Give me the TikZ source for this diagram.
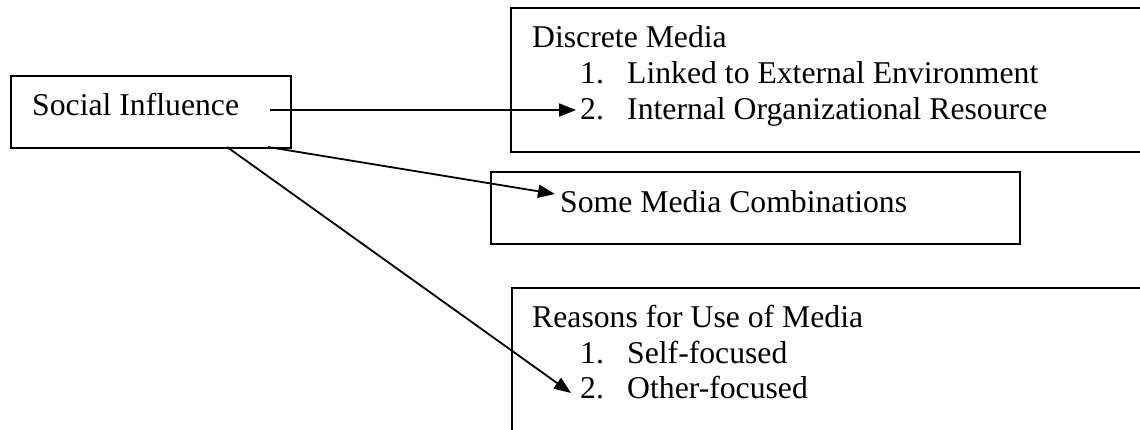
\documentclass[tikz,border=0pt]{standalone}
\usepackage{fontspec}
\setmainfont{Liberation Serif}
\usetikzlibrary{arrows.meta}
\begin{document}
\begin{tikzpicture}[x=1pt,y=-1pt,
  frame/.style={draw=black,line width=2.2pt,fill=white,inner sep=0pt,anchor=north west},
  label/.style={anchor=base west,inner sep=0pt,font=\fontsize{31.7}{38}\selectfont},
  link/.style={line width=1.8pt,-{Triangle[length=17pt,width=13pt]}}]
  \clip (0,0) rectangle (1140,429);
  \fill[white] (0,0) rectangle (1140,429);

  % boxes
  \node[frame,minimum width=280pt,minimum height=72pt] (si) at (10,75) {};
  \node[frame,minimum width=660pt,minimum height=144pt] (dm) at (510,7) {};
  \node[frame,minimum width=529pt,minimum height=72pt] (smc) at (490,171) {};
  \node[frame,minimum width=660pt,minimum height=170pt] (rum) at (511,287) {};

  % texts
  \node[label] (siT) at (32,115) {Social Influence};

  \node[label] (dmT) at (532,47) {Discrete Media};
  \node[label] (dmN1) at (580,83) {1.};
  \node[label] (dmI1) at (627,83) {Linked to External Environment};
  \node[label] (dmN2) at (580,119) {2.};
  \node[label] (dmI2) at (627,119) {Internal Organizational Resource};

  \node[label] (smcT) at (560,212) {Some Media Combinations};

  \node[label] (rumT) at (532,327) {Reasons for Use of Media};
  \node[label] (rumN1) at (580,363) {1.};
  \node[label] (rumI1) at (627,363) {Self-focused};
  \node[label] (rumN2) at (580,398) {2.};
  \node[label] (rumI2) at (627,398) {Other-focused};

  % connector ends
  \coordinate (a1) at (270,110);
  \coordinate (b1) at (576,110);
  \coordinate (a2) at (268,147);
  \coordinate (b2) at (555,194);
  \coordinate (a3) at (227,147);
  \coordinate (b3) at (571,393);

  \draw[link] (a1) -- (b1);
  \draw[link] (a2) -- (b2);
  \draw[link] (a3) -- (b3);
\end{tikzpicture}
\end{document}
